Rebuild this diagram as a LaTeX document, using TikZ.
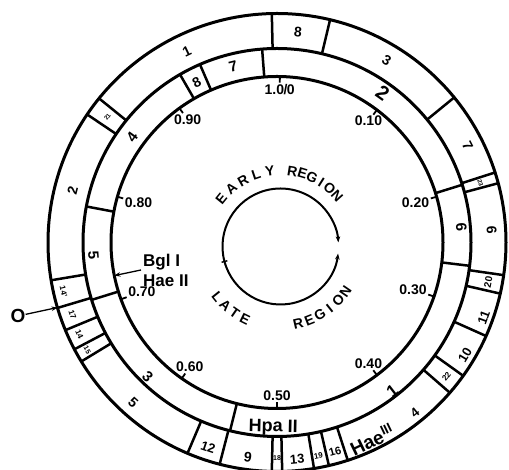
\documentclass[tikz,border=0pt]{standalone}
\usepackage{fontspec}
\setmainfont{Liberation Sans}
\usetikzlibrary{calc,arrows.meta}

\begin{document}
\begin{tikzpicture}[
  x=1pt, y=1pt,
  ring/.style={line width=3pt},
  divider/.style={line width=2.5pt},
  tickmark/.style={line width=1.8pt},
  fraglbl/.style={font=\fontsize{#1}{#1}\selectfont\bfseries, inner sep=0pt},
  ticklbl/.style={font=\fontsize{14}{14}\selectfont\bfseries, inner sep=0.5pt},
  regionlbl/.style={font=\fontsize{14}{14}\selectfont\bfseries, inner sep=0pt},
  sitelbl/.style={font=\fontsize{17}{20}\selectfont\bfseries, align=left, inner sep=2pt},
  >={Stealth[length=6pt,width=4.5pt]}
]
  \useasboundingbox (0,0) rectangle (509,470);
  \coordinate (c) at (277,227.5);
  \coordinate (s) at (280.5,223.5);
  \def\rA{166}
  \def\rB{194}
  \def\rC{229}

  % the three rings
  \draw[ring] (c) circle[radius=\rA];
  \draw[ring] (c) circle[radius=\rB];
  \draw[ring] (c) circle[radius=\rC];

  % cuts, inner ring
  \foreach \a in {94.4,113.4,120,169.3,197.2,256,353.1,17.3}
    \draw[divider] ($(c)+(\a:\rA)$) -- ($(c)+(\a:\rB)$);
  % cuts, outer ring
  \foreach \a in {91.3,76.6,39.3,17.8,15,351.8,347.1,335.9,324.4,319,288,283.1,
                  279.3,271.3,268.7,255.5,247,211.3,207.8,202.5,196.6,189.5,146,141}
    \draw[divider] ($(c)+(\a:\rB)$) -- ($(c)+(\a:\rC)$);

  % map units
  \foreach \a/\t [count=\i] in {89/{1.0\kern-0.5pt/\kern-0.5pt0},53/0.10,16/0.20,341/0.30,
                               307/0.40,270/0.50,235/0.60,200/0.70,164/0.80,126/0.90}{
    \draw[tickmark] ($(c)+(\a:\rA)$) -- ($(c)+(\a:\rA-6)$);
    \node[ticklbl, anchor=\a] (t\i) at ($(c)+(\a:\rA-7)$) {\t};
  }

  % fragment numbers
  \foreach \a/\r/\t/\f [count=\i] in {104/181/7/15, 116.7/179/8/14, 144/179/4/15,
      184/184/5/15, 226/186/3/15, 268.8/185/Hpa II/18, 307.8/188/1/17,
      4.8/185/6/15, 54.7/183/2/20}{
    \pgfmathsetmacro\rot{ifthenelse(\a>180,\a+90,\a-90)}
    \node[fraglbl=\f, rotate=\rot] (in\i) at ($(c)+(\a:\r)$) {\t};
  }
  \foreach \a/\r/\t/\f [count=\i] in {115.3/211/1/14, 143.5/211/21/6, 165.6/211/2/14,
      193/219/14'/8, 199.5/217/17/8, 205/218/14/8, 209.5/218/15/7,
      228/215/5/14, 251.4/216/12/13, 262.3/217/9/14, 270/216/18/7,
      275.3/218/13/13, 281/217/19/8, 285.5/217/16/11, 295.7/219/Hae\textsuperscript{III}/19,
      309/219/4/13, 321.7/216/22/8, 329.1/219/10/13, 340/220/11/13,
      349.4/215/20/10, 3.3/215/6/14, 16.4/212/23/6, 27/214/7/14,
      59/213/3/14, 84.3/211/8/14}{
    \pgfmathsetmacro\rot{ifthenelse(\a>180,\a+90,\a-90)}
    \node[fraglbl=\f, rotate=\rot] (out\i) at ($(c)+(\a:\r)$) {\t};
  }

  % sites
  \node[sitelbl, anchor=west] (bgl) at (141,200) {Bgl I\\Hae II};
  \coordinate (bglend) at ($(c)+(191.5:\rA)$);
  \draw[line width=1.3pt, ->] (bgl.west) -- (bglend);
  \node[fraglbl=19] (ori) at (18,154) {O};
  \coordinate (oriend) at ($(c)+(196.5:\rC)$);
  \draw[line width=1.3pt, ->] (ori) -- (oriend);

  % early and late transcripts
  \draw[line width=2pt, ->] ($(s)+(195:58)$) arc[start angle=195, end angle=4, radius=58];
  \draw[line width=2pt, ->] ($(s)+(195:58)$) arc[start angle=195, end angle=353, radius=58];
  \draw[line width=1.4pt] ($(s)+(195:55)$) -- ($(s)+(195:61)$);

  \foreach \ch [count=\i from 0] in {E,A,R,L,Y}
    \node[regionlbl, rotate={51-10.75*\i}] (early\i) at ($(s)+({141-10.75*\i}:76)$) {\ch};
  \foreach \ch [count=\i from 0] in {R,E,G,I,O,N}
    \node[regionlbl, rotate={-9-7.8*\i}] (regiona\i) at ($(s)+({81-7.8*\i}:76)$) {\ch};
  \foreach \ch [count=\i from 0] in {L,A,T,E}
    \node[regionlbl, rotate={308.7+8.4*\i}] (late\i) at ($(s)+({218.7+8.4*\i}:81)$) {\ch};
  \foreach \ch [count=\i from 0] in {R,E,G,I,O,N}
    \node[regionlbl, rotate={373+8.5*\i}] (regionb\i) at ($(s)+({283+8.5*\i}:79)$) {\ch};
\end{tikzpicture}
\end{document}
